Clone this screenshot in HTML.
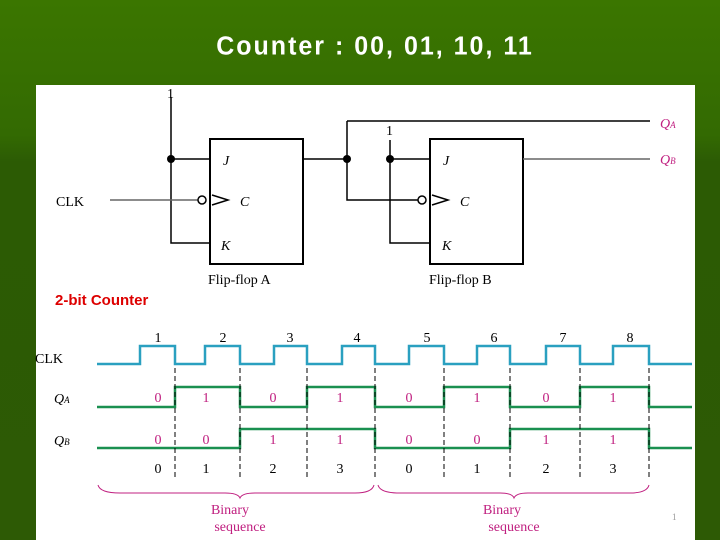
<!DOCTYPE html>
<html><head><style>
body{margin:0;width:720px;height:540px;overflow:hidden;background:linear-gradient(180deg,#3b7600 0%,#336a02 25%,#2c5b04 30%,#2d5a05 100%);font-family:"Liberation Sans",sans-serif;position:relative}
.t{position:absolute;left:0;width:750px;top:32px;text-align:center;color:#fff;font-weight:bold;font-size:25px;letter-spacing:2px;transform:scaleY(1.05)}
svg{position:absolute;left:0;top:0}
</style></head><body>
<div class="t">Counter : 00, 01, 10, 11</div>
<svg width="720" height="540" font-family="Liberation Serif, serif">
<rect x="36" y="85" width="659" height="455" fill="#fff"/>
<g stroke="#000" stroke-width="1.5" fill="none">
<rect x="210" y="139" width="93" height="125" stroke-width="2"/>
<rect x="430" y="139" width="93" height="125" stroke-width="2"/>
<path d="M171 97V243H210M171 159H210M303 159H347M347 121H650M347 121V200H420M390 140V243H430M390 159H430"/>
<path d="M110 200H198M523 159H650" stroke="#666"/>
<circle cx="202" cy="200" r="4" fill="#fff"/>
<circle cx="422" cy="200" r="4" fill="#fff"/>
<path d="M212 195L228 200L212 205M432 195L448 200L432 205"/>
</g>
<g fill="#000"><circle cx="171" cy="159" r="4"/><circle cx="347" cy="159" r="4"/><circle cx="390" cy="159" r="4"/></g>
<g font-size="14">
<text x="167" y="98">1</text><text x="386" y="135">1</text>
<text x="56" y="206">CLK</text>
<text x="223" y="165" font-style="italic">J</text><text x="240" y="206" font-style="italic">C</text><text x="221" y="250" font-style="italic">K</text>
<text x="443" y="165" font-style="italic">J</text><text x="460" y="206" font-style="italic">C</text><text x="442" y="250" font-style="italic">K</text>
<text x="208" y="284">Flip-flop A</text><text x="429" y="284">Flip-flop B</text>
<text x="660" y="128" fill="#c02080" font-style="italic">Q<tspan font-size="9">A</tspan></text>
<text x="660" y="164" fill="#c02080" font-style="italic">Q<tspan font-size="9">B</tspan></text>
</g>
<text x="55" y="305" fill="#d00" font-family="Liberation Sans,sans-serif" font-weight="bold" font-size="15">2-bit Counter</text>
<path d="M97 364H140V346H175V364H205V346H240V364H274V346H307V364H342V346H375V364H409V346H444V364H477V346H510V364H546V346H580V364H613V346H649V364H692" stroke="#2aa0c0" stroke-width="2.5" fill="none"/>
<path d="M97 407H175V387H240V407H307V387H375V407H444V387H510V407H580V387H649V407H692" stroke="#1a9050" stroke-width="2.5" fill="none"/>
<path d="M97 448H240V429H375V448H510V429H649V448H692" stroke="#1a9050" stroke-width="2.5" fill="none"/>
<g stroke="#000" stroke-dasharray="5,3" stroke-width="1">
<path d="M175 368V478M240 368V478M307 368V478M375 368V478M444 368V478M510 368V478M580 368V478M649 368V478"/>
</g>
<g font-size="14" text-anchor="middle">
<text x="158" y="342">1</text><text x="223" y="342">2</text><text x="290" y="342">3</text><text x="357" y="342">4</text><text x="427" y="342">5</text><text x="494" y="342">6</text><text x="563" y="342">7</text><text x="630" y="342">8</text>
<g fill="#c02080">
<text x="158" y="402">0</text><text x="206" y="402">1</text><text x="273" y="402">0</text><text x="340" y="402">1</text><text x="409" y="402">0</text><text x="477" y="402">1</text><text x="546" y="402">0</text><text x="613" y="402">1</text>
<text x="158" y="444">0</text><text x="206" y="444">0</text><text x="273" y="444">1</text><text x="340" y="444">1</text><text x="409" y="444">0</text><text x="477" y="444">0</text><text x="546" y="444">1</text><text x="613" y="444">1</text>
</g>
<text x="158" y="473">0</text><text x="206" y="473">1</text><text x="273" y="473">2</text><text x="340" y="473">3</text><text x="409" y="473">0</text><text x="477" y="473">1</text><text x="546" y="473">2</text><text x="613" y="473">3</text>
<text x="230" y="514" fill="#c02080">Binary</text><text x="240" y="531" fill="#c02080">sequence</text>
<text x="502" y="514" fill="#c02080">Binary</text><text x="514" y="531" fill="#c02080">sequence</text>
</g>
<g font-size="14" font-style="italic">
<text x="35" y="363" font-style="normal">CLK</text>
<text x="54" y="403">Q<tspan font-size="9">A</tspan></text>
<text x="54" y="445">Q<tspan font-size="9">B</tspan></text>
</g>
<path d="M98 485Q100 493 120 493H225Q238 493 240 498Q242 493 255 493H355Q372 493 374 485M378 485Q380 493 400 493H500Q512 493 514 498Q516 493 528 493H630Q647 493 649 485" stroke="#c02080" fill="none"/>
<text x="672" y="520" font-size="9" fill="#999">1</text>
</svg>
</body></html>
